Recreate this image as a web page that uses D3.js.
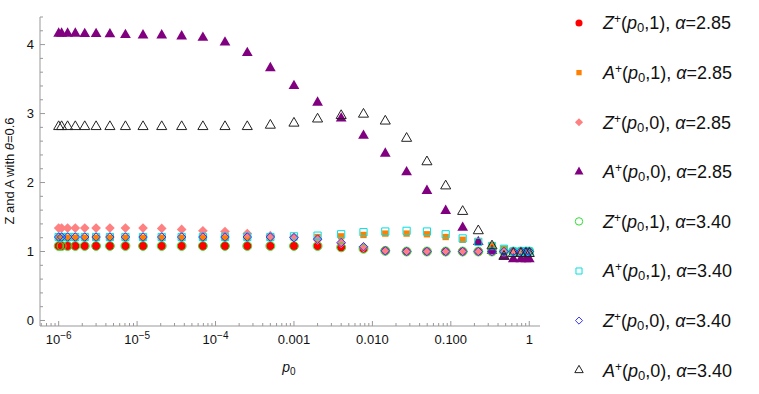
<!DOCTYPE html>
<html>
<head>
<meta charset="utf-8">
<script src="https://cdn.jsdelivr.net/npm/d3@7"></script>
<style>
  body { margin: 0; background: #fff; }
  text { font-family: "Liberation Sans", Arial, sans-serif; }
</style>
</head>
<body>
<div id="chart"></div>
<script>
// p0 values (x)
var p0 = [1e-6, 1.09e-6, 1.3e-6, 1.63e-6, 2.15e-6, 3.0e-6, 4.5e-6, 7.1e-6, 1.19e-5, 2.06e-5,
  3.7e-5, 6.9e-5, 1.32e-4, 2.54e-4, 5.0e-4, 1.0e-3, 2.0e-3, 4.0e-3, 7.7e-3, 0.0146,
  0.0273, 0.0496, 0.086, 0.1416, 0.224, 0.335, 0.476, 0.626, 0.783, 0.908, 1];

// alpha = 2.85
var zPlus1_285 = [1.08, 1.08, 1.08, 1.08, 1.08, 1.08, 1.08, 1.08, 1.08, 1.08,
  1.08, 1.08, 1.08, 1.08, 1.08, 1.08, 1.08, 1.06, 1.04, 1.01,
  1.0, 1.0, 1.0, 1.0, 1.0, 1.0, 1.0, 1.0, 1.0, 1.0, 1.0];
var aPlus1_285 = [1.20, 1.20, 1.20, 1.20, 1.20, 1.20, 1.20, 1.20, 1.20, 1.20,
  1.20, 1.20, 1.20, 1.20, 1.20, 1.20, 1.21, 1.22, 1.24, 1.26,
  1.26, 1.25, 1.21, 1.17, 1.14, 1.09, 1.04, 1.0, 1.0, 1.0, 1.0];
var zPlus0_285 = [1.34, 1.34, 1.34, 1.34, 1.34, 1.34, 1.34, 1.34, 1.34, 1.335,
  1.32, 1.30, 1.29, 1.26, 1.23, 1.21, 1.17, 1.12, 1.06, 1.01,
  1.0, 1.0, 1.0, 1.0, 1.0, 1.0, 1.0, 1.0, 1.0, 1.0, 1.0];
var aPlus0_285 = [4.16, 4.16, 4.16, 4.16, 4.155, 4.155, 4.15, 4.14, 4.135, 4.135,
  4.12, 4.10, 4.03, 3.88, 3.66, 3.40, 3.16, 2.93, 2.68, 2.42,
  2.15, 1.88, 1.59, 1.345, 1.14, 1.01, 0.925, 0.89, 0.89, 0.89, 0.89];

// alpha = 3.40
var zPlus1_340 = [1.08, 1.08, 1.08, 1.08, 1.08, 1.08, 1.08, 1.08, 1.08, 1.08,
  1.08, 1.08, 1.08, 1.08, 1.08, 1.08, 1.08, 1.06, 1.04, 1.01,
  1.0, 1.0, 1.0, 1.0, 1.0, 1.0, 1.0, 1.0, 1.0, 1.0, 1.0];
var aPlus1_340 = [1.21, 1.21, 1.21, 1.21, 1.21, 1.21, 1.21, 1.21, 1.21, 1.21,
  1.21, 1.21, 1.21, 1.21, 1.21, 1.22, 1.23, 1.25, 1.28, 1.29,
  1.30, 1.29, 1.25, 1.19, 1.14, 1.08, 1.04, 1.0, 1.0, 1.0, 1.0];
var zPlus0_340 = [1.21, 1.21, 1.21, 1.21, 1.21, 1.21, 1.21, 1.21, 1.21, 1.21,
  1.21, 1.21, 1.21, 1.21, 1.21, 1.20, 1.18, 1.13, 1.07, 1.01,
  1.0, 1.0, 1.0, 1.0, 1.0, 1.0, 1.0, 1.0, 1.0, 1.0, 1.0];
var aPlus0_340 = [2.81, 2.81, 2.81, 2.81, 2.81, 2.81, 2.81, 2.81, 2.81, 2.81,
  2.81, 2.81, 2.81, 2.81, 2.83, 2.86, 2.92, 2.97, 2.99, 2.89,
  2.64, 2.30, 1.95, 1.58, 1.30, 1.08, 0.93, 0.97, 0.97, 0.97, 0.97];

var yTicks = [0, 1, 2, 3, 4];
var xTicks = [1e-6, 1e-5, 1e-4, 1e-3, 1e-2, 1e-1, 1];
var xTickLabels = ["10|-6", "10|-5", "10|-4", "0.001", "0.010", "0.100", "1"];

var series = [
  { name: "Z", arg: "1", alpha: "2.85", values: zPlus1_285, shape: d3.symbolCircle, size: 56, fill: "#ff0000", stroke: "none" },
  { name: "A", arg: "1", alpha: "2.85", values: aPlus1_285, shape: d3.symbolSquare, size: 40, fill: "#ff8000", stroke: "none" },
  { name: "Z", arg: "0", alpha: "2.85", values: zPlus0_285, shape: d3.symbolDiamond2, size: 60, fill: "#ff8080", stroke: "none" },
  { name: "A", arg: "0", alpha: "2.85", values: aPlus0_285, shape: d3.symbolTriangle, size: 50, fill: "#800080", stroke: "none" },
  { name: "Z", arg: "1", alpha: "3.40", values: zPlus1_340, shape: d3.symbolCircle, size: 62, fill: "none", stroke: "#33dd33" },
  { name: "A", arg: "1", alpha: "3.40", values: aPlus1_340, shape: d3.symbolSquare, size: 52, fill: "none", stroke: "#00e0e0" },
  { name: "Z", arg: "0", alpha: "3.40", values: zPlus0_340, shape: d3.symbolDiamond2, size: 46, fill: "none", stroke: "#3333ff" },
  { name: "A", arg: "0", alpha: "3.40", values: aPlus0_340, shape: d3.symbolTriangle, size: 44, fill: "none", stroke: "#222222" }
];

var width = 759, height = 394;

var svg = d3.select("#chart")
  .append("svg")
  .attr("width", width)
  .attr("height", height);

var x = d3.scaleLog()
  .domain([Math.pow(10, -6.238), Math.pow(10, 0.137)])
  .range([40, 540]);

var y = d3.scaleLinear()
  .domain([-0.08, 4.4])
  .range([326, 17]);

var axisColor = "#999";

// axes lines
svg.append("line")
  .attr("x1", 40).attr("x2", 40)
  .attr("y1", y.range()[0]).attr("y2", y.range()[1])
  .attr("stroke", axisColor);
svg.append("line")
  .attr("x1", 40).attr("x2", 540)
  .attr("y1", 326).attr("y2", 326)
  .attr("stroke", axisColor);

// y ticks, major + minor every 0.2
var yMinor = d3.range(0, 4.41, 0.2);
svg.append("g").selectAll("line")
  .data(yMinor)
  .enter()
  .append("line")
  .attr("x1", 40)
  .attr("x2", function(d) { return Math.abs(d - Math.round(d)) < 1e-6 ? 45 : 43; })
  .attr("y1", function(d) { return y(d); })
  .attr("y2", function(d) { return y(d); })
  .attr("stroke", axisColor);

svg.append("g").selectAll("text")
  .data(yTicks)
  .enter()
  .append("text")
  .attr("x", 34)
  .attr("y", function(d) { return y(d); })
  .attr("dy", "0.35em")
  .attr("text-anchor", "end")
  .attr("font-size", "13px")
  .attr("fill", "#111")
  .text(function(d) { return d; });

// x ticks: major at decades, minor at 2..9
var xMinor = [];
for (var e = -7; e <= 0; e++) {
  for (var k = 1; k <= 9; k++) {
    var v = k * Math.pow(10, e);
    if (v >= x.domain()[0] && v <= x.domain()[1]) xMinor.push(v);
  }
}
svg.append("g").selectAll("line")
  .data(xMinor)
  .enter()
  .append("line")
  .attr("x1", function(d) { return x(d); })
  .attr("x2", function(d) { return x(d); })
  .attr("y1", 326)
  .attr("y2", function(d) {
    var l = Math.log10(d);
    return Math.abs(l - Math.round(l)) < 1e-6 ? 321 : 323;
  })
  .attr("stroke", axisColor);

var xt = svg.append("g").selectAll("text")
  .data(xTicks)
  .enter()
  .append("text")
  .attr("x", function(d) { return x(d); })
  .attr("y", 344)
  .attr("text-anchor", "middle")
  .attr("font-size", "13px")
  .attr("fill", "#111");

xt.each(function(d, i) {
  var t = d3.select(this);
  var parts = xTickLabels[i].split("|");
  t.append("tspan").text(parts[0]);
  if (parts.length > 1) {
    t.append("tspan").attr("dy", "-5").attr("font-size", "10px").text(parts[1].replace("-", "\u2212"));
  }
});

// axis labels
svg.append("text")
  .attr("transform", "translate(14,171) rotate(-90)")
  .attr("text-anchor", "middle")
  .attr("font-size", "13px")
  .attr("fill", "#111")
  .call(function(t) {
    t.append("tspan").text("Z and A with ");
    t.append("tspan").attr("font-style", "italic").text("\u03b8");
    t.append("tspan").text("=0.6");
  });

svg.append("text")
  .attr("x", 289)
  .attr("y", 372)
  .attr("text-anchor", "middle")
  .attr("font-size", "14px")
  .attr("fill", "#111")
  .call(function(t) {
    t.append("tspan").attr("font-style", "italic").text("p");
    t.append("tspan").attr("font-size", "10px").attr("dy", "3").text("0");
  });

// points
series.forEach(function(s) {
  svg.append("g")
    .selectAll("path")
    .data(s.values)
    .enter()
    .append("path")
    .attr("transform", function(d, i) { return "translate(" + x(p0[i]) + "," + y(d) + ")"; })
    .attr("d", d3.symbol().type(s.shape).size(s.size))
    .attr("fill", s.fill)
    .attr("stroke", s.stroke)
    .attr("stroke-width", 1);
});

// legend
var legend = svg.append("g").selectAll("g")
  .data(series)
  .enter()
  .append("g")
  .attr("transform", function(d, i) { return "translate(579," + (23 + i * 49.6) + ")"; });

legend.append("path")
  .attr("d", function(d) { return d3.symbol().type(d.shape).size(d.size * 0.7)(); })
  .attr("fill", function(d) { return d.fill; })
  .attr("stroke", function(d) { return d.stroke; });

legend.append("text")
  .attr("x", 24)
  .attr("dy", "0.35em")
  .attr("font-size", "18px")
  .attr("fill", "#111")
  .each(function(d) {
    var t = d3.select(this);
    t.append("tspan").attr("font-style", "italic").text(d.name);
    t.append("tspan").attr("font-size", "12px").attr("dy", "-6").text("+");
    t.append("tspan").attr("dy", "6").text("(");
    t.append("tspan").attr("font-style", "italic").text("p");
    t.append("tspan").attr("font-size", "13px").attr("dy", "3").text("0");
    t.append("tspan").attr("dy", "-3").text("," + d.arg + "), ");
    t.append("tspan").attr("font-style", "italic").text("\u03b1");
    t.append("tspan").text("=" + d.alpha);
  });
</script>
</body>
</html>
